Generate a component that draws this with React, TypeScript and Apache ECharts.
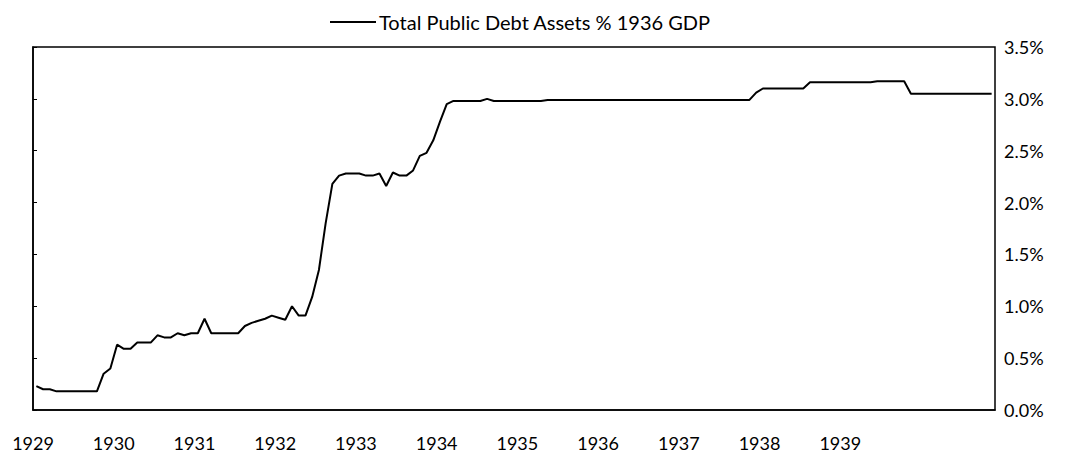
import React, { useEffect, useRef } from "react";
import * as echarts from "echarts";

const seriesName = "Total Public Debt Assets % 1936 GDP";
const yearLabels = ["1929", "1930", "1931", "1932", "1933", "1934", "1935", "1936", "1937", "1938", "1939"];
const yTicks = ["0.0%", "0.5%", "1.0%", "1.5%", "2.0%", "2.5%", "3.0%", "3.5%"];

// Monthly values, Jan 1929 onward (% of 1936 GDP)
const values1929 = [0.23, 0.2, 0.2, 0.18, 0.18, 0.18, 0.18, 0.18, 0.18, 0.18, 0.35, 0.4];
const values1930 = [0.63, 0.59, 0.59, 0.65, 0.65, 0.65, 0.72, 0.7, 0.7, 0.74, 0.72, 0.74];
const values1931 = [0.74, 0.88, 0.74, 0.74, 0.74, 0.74, 0.74, 0.81, 0.84, 0.86, 0.88, 0.91];
const values1932 = [0.89, 0.87, 1.0, 0.91, 0.91, 1.09, 1.35, 1.8, 2.18, 2.26, 2.28, 2.28];
const values1933 = [2.28, 2.26, 2.26, 2.28, 2.16, 2.29, 2.26, 2.26, 2.31, 2.45, 2.48, 2.6];
const values1934 = [2.78, 2.95, 2.98, 2.98, 2.98, 2.98, 2.98, 3.0, 2.98, 2.98, 2.98, 2.98];
const values1935 = [2.98, 2.98, 2.98, 2.98, 2.99, 2.99, 2.99, 2.99, 2.99, 2.99, 2.99, 2.99];
const values1936 = [2.99, 2.99, 2.99, 2.99, 2.99, 2.99, 2.99, 2.99, 2.99, 2.99, 2.99, 2.99];
const values1937 = [2.99, 2.99, 2.99, 2.99, 2.99, 2.99, 2.99, 2.99, 2.99, 2.99, 2.99, 3.06];
const values1938 = [3.1, 3.1, 3.1, 3.1, 3.1, 3.1, 3.1, 3.16, 3.16, 3.16, 3.16, 3.16];
const values1939 = [3.16, 3.16, 3.16, 3.16, 3.16, 3.17, 3.17, 3.17, 3.17, 3.17, 3.05, 3.05];
const values1940 = [3.05, 3.05, 3.05, 3.05, 3.05, 3.05, 3.05, 3.05, 3.05, 3.05, 3.05];

const values = [
  ...values1929, ...values1930, ...values1931, ...values1932, ...values1933, ...values1934,
  ...values1935, ...values1936, ...values1937, ...values1938, ...values1939, ...values1940,
];

const FONT = "Lato";

export default function App() {
  const ref = useRef<HTMLDivElement>(null);
  useEffect(() => {
    if (!ref.current) return;
    const chart = echarts.init(ref.current, null, { renderer: "svg" });
    const data = values.map((v, i) => [i + 0.5, v]);
    chart.setOption({
      animation: false,
      backgroundColor: "#ffffff",
      textStyle: { fontFamily: FONT },
      legend: {
        data: [seriesName],
        top: 7,
        left: 325,
        itemWidth: 46,
        itemHeight: 2,
        itemGap: 2,
        icon: "rect",
        textStyle: { fontFamily: FONT, fontSize: 20, color: "#000", padding: [0, 0, 0, -2] },
      },
      grid: {
        left: 33,
        right: 70,
        top: 47,
        bottom: 47,
        show: true,
        borderColor: "#000",
        borderWidth: 1.5,
        backgroundColor: "transparent",
      },
      xAxis: {
        type: "value",
        min: 0,
        max: values.length,
        interval: 12,
        axisLine: { show: true, lineStyle: { color: "#000", width: 1.5 } },
        axisTick: { show: false },
        splitLine: { show: false },
        axisLabel: {
          color: "#000",
          fontFamily: FONT,
          fontSize: 18,
          margin: 24,
          showMaxLabel: false,
          formatter: (v: number) => {
            const idx = Math.round(v / 12);
            return idx < yearLabels.length ? yearLabels[idx] : "";
          },
        },
      },
      yAxis: {
        type: "value",
        position: "right",
        min: 0,
        max: 3.5,
        interval: 0.5,
        axisLine: { show: true, lineStyle: { color: "#000", width: 1.5 } },
        axisTick: { show: true, inside: false, length: 4, lineStyle: { color: "#000" } },
        splitLine: { show: false },
        axisLabel: {
          color: "#000",
          fontFamily: FONT,
          fontSize: 18,
          margin: 9,
          formatter: (v: number) => yTicks[Math.round(v / 0.5)] ?? "",
        },
      },
      series: [
        {
          name: seriesName,
          type: "line",
          data,
          showSymbol: false,
          symbol: "none",
          lineStyle: { color: "#000", width: 2 },
          itemStyle: { color: "#000" },
        },
      ],
    });
    return () => chart.dispose();
  }, []);
  return (
    <div
      ref={ref}
      style={{ position: "fixed", left: 0, top: 0, width: 1065, height: 457, background: "#fff" }}
    />
  );
}
